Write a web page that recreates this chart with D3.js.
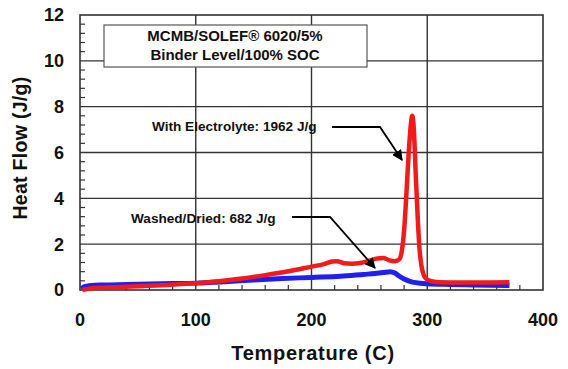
<!DOCTYPE html>
<html>
<head>
<meta charset="utf-8">
<script src="https://cdn.jsdelivr.net/npm/d3@7"></script>
<style>
  body { margin: 0; background: #fff; }
  svg text { font-family: "Liberation Sans", Arial, sans-serif; font-weight: bold; fill: #111; }
</style>
</head>
<body>
<div id="chart"></div>
<script>
// values
const electrolyteT = [2, 5, 10, 20, 35, 50, 75, 100, 120, 140, 160, 180, 200, 210, 218, 222, 228, 235, 242, 250, 256, 262, 267, 272, 276, 278, 280, 282, 284, 286, 287, 288, 289, 290, 291, 292, 293, 295, 297, 300, 305, 310, 330, 350, 371];
const electrolyteV = [0.0, 0.03, 0.08, 0.1, 0.13, 0.16, 0.22, 0.3, 0.38, 0.5, 0.65, 0.82, 1.02, 1.12, 1.24, 1.26, 1.17, 1.15, 1.18, 1.28, 1.37, 1.4, 1.3, 1.26, 1.35, 1.7, 2.6, 4.2, 6.0, 7.3, 7.6, 7.3, 6.4, 5.1, 4.0, 2.9, 2.0, 1.05, 0.65, 0.45, 0.37, 0.34, 0.33, 0.33, 0.34];
const washedT = [1, 3, 6, 10, 20, 40, 60, 80, 100, 125, 150, 175, 200, 225, 245, 255, 262, 268, 272, 276, 280, 285, 290, 300, 320, 340, 371];
const washedV = [0.05, 0.12, 0.17, 0.2, 0.22, 0.24, 0.26, 0.28, 0.3, 0.36, 0.44, 0.5, 0.55, 0.6, 0.68, 0.72, 0.76, 0.8, 0.74, 0.6, 0.48, 0.38, 0.32, 0.27, 0.24, 0.22, 0.2];
const xTicks = [0, 100, 200, 300, 400];
const yTicks = [0, 2, 4, 6, 8, 10, 12];
const boxLines = ["MCMB/SOLEF\u00AE 6020/5%", "Binder Level/100% SOC"];
const labelElectrolyte = "With Electrolyte: 1962 J/g";
const labelWashed = "Washed/Dried: 682 J/g";

const W = 568, H = 369;
const m = { left: 80, right: 25, top: 15, bottom: 79 };

const svg = d3.select("#chart").append("svg")
  .attr("width", W).attr("height", H);

const x = d3.scaleLinear().domain([0, 400]).range([m.left, W - m.right]);
const y = d3.scaleLinear().domain([0, 12]).range([H - m.bottom, m.top]);

// gridlines
svg.append("g").selectAll("line").data(yTicks.slice(1, -1)).join("line")
  .attr("x1", x(0)).attr("x2", x(400))
  .attr("y1", d => y(d)).attr("y2", d => y(d))
  .attr("stroke", "#333").attr("stroke-width", 1.4);
svg.append("g").selectAll("line").data(xTicks.slice(1, -1)).join("line")
  .attr("y1", y(0)).attr("y2", y(12))
  .attr("x1", d => x(d)).attr("x2", d => x(d))
  .attr("stroke", "#333").attr("stroke-width", 1.4);

// minor ticks
const yMinor = d3.range(0, 12.01, 0.4).filter(v => Math.abs(v / 2 - Math.round(v / 2)) > 0.01);
svg.append("g").selectAll("line").data(yMinor).join("line")
  .attr("x1", x(0)).attr("x2", x(0) + 5)
  .attr("y1", d => y(d)).attr("y2", d => y(d))
  .attr("stroke", "#333").attr("stroke-width", 1.2);
const xMinor = d3.range(20, 400, 20).filter(v => v % 100 !== 0);
svg.append("g").selectAll("line").data(xMinor).join("line")
  .attr("y1", y(0)).attr("y2", y(0) - 5)
  .attr("x1", d => x(d)).attr("x2", d => x(d))
  .attr("stroke", "#333").attr("stroke-width", 1.2);

// frame
svg.append("rect")
  .attr("x", x(0)).attr("y", y(12))
  .attr("width", x(400) - x(0)).attr("height", y(0) - y(12))
  .attr("fill", "none").attr("stroke", "#333").attr("stroke-width", 1.6);

// tick labels
svg.append("g").selectAll("text").data(yTicks).join("text")
  .attr("x", x(0) - 16).attr("y", d => y(d))
  .attr("dy", "0.36em").attr("text-anchor", "end")
  .style("font-size", "18px").text(d => d);
svg.append("g").selectAll("text").data(xTicks).join("text")
  .attr("x", d => x(d)).attr("y", y(0) + 30)
  .attr("dy", "0.36em").attr("text-anchor", "middle")
  .style("font-size", "18px").text(d => d);

// axis titles
svg.append("text")
  .attr("x", 313).attr("y", 353).attr("dy", "0.36em")
  .attr("text-anchor", "middle").style("font-size", "20px")
  .style("letter-spacing", "0.7px")
  .text("Temperature (C)");
svg.append("text")
  .attr("transform", "translate(20,148) rotate(-90)")
  .attr("dy", "0.36em").attr("text-anchor", "middle").style("font-size", "19.5px")
  .style("letter-spacing", "0.3px")
  .text("Heat Flow (J/g)");

// data curves
const line = d3.line().x(d => x(d[0])).y(d => y(d[1])).curve(d3.curveMonotoneX);
svg.append("path")
  .datum(washedT.map((t, i) => [t, washedV[i]]))
  .attr("d", line).attr("fill", "none")
  .attr("stroke", "#1f1ff0").attr("stroke-width", 5)
  .attr("stroke-linejoin", "round");
svg.append("path")
  .datum(electrolyteT.map((t, i) => [t, electrolyteV[i]]))
  .attr("d", line).attr("fill", "none")
  .attr("stroke", "#f21a1a").attr("stroke-width", 4.5)
  .attr("stroke-linejoin", "round");

// title box
svg.append("rect")
  .attr("x", 104).attr("y", 25).attr("width", 263).attr("height", 42)
  .attr("fill", "#fff").attr("stroke", "#555").attr("stroke-width", 1.2);
svg.append("g").selectAll("text").data(boxLines).join("text")
  .attr("x", 235).attr("y", (d, i) => 36 + i * 19)
  .attr("dy", "0.36em").attr("text-anchor", "middle")
  .style("font-size", "15px").text(d => d);

// annotations
svg.append("defs").append("marker")
  .attr("id", "arr").attr("viewBox", "0 0 10 10")
  .attr("refX", 9).attr("refY", 5)
  .attr("markerWidth", 6).attr("markerHeight", 6)
  .attr("markerUnits", "strokeWidth").attr("orient", "auto")
  .append("path").attr("d", "M0,0 L10,5 L0,10 z").attr("fill", "#000");

svg.append("text")
  .attr("x", 152).attr("y", 126).attr("dy", "0.36em")
  .style("font-size", "13.6px").text(labelElectrolyte);
svg.append("path")
  .attr("d", "M332,127 L380,127 L402,160")
  .attr("fill", "none").attr("stroke", "#000").attr("stroke-width", 1.8)
  .attr("marker-end", "url(#arr)");

svg.append("text")
  .attr("x", 131).attr("y", 218).attr("dy", "0.36em")
  .style("font-size", "13.6px").text(labelWashed);
svg.append("path")
  .attr("d", "M292,217 L330,217 L375,268")
  .attr("fill", "none").attr("stroke", "#000").attr("stroke-width", 1.8)
  .attr("marker-end", "url(#arr)");
</script>
</body>
</html>
